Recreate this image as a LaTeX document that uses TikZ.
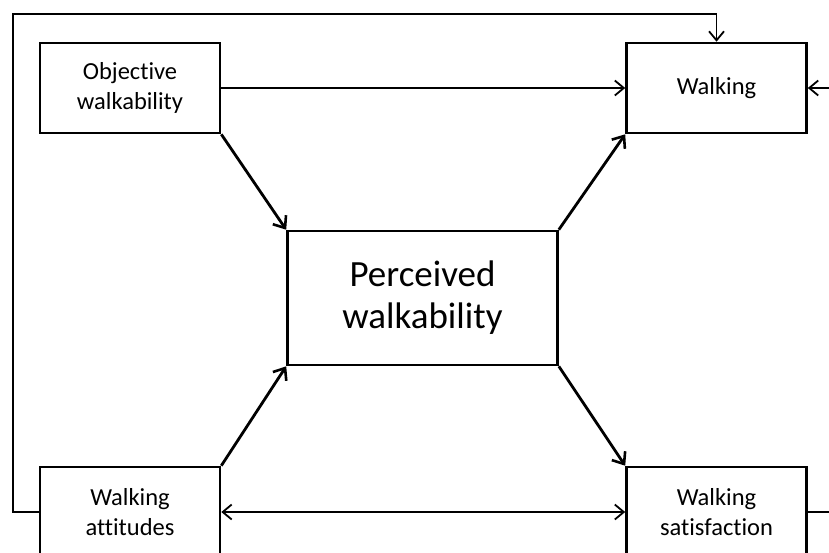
\documentclass[tikz,border=0pt]{standalone}
\usepackage{fontspec}
\setmainfont{Carlito}[Ligatures=NoCommon]
\usetikzlibrary{arrows.meta}
\tikzset{
  box/.style={draw, line width=2.6pt, minimum width=180pt, minimum height=90pt, inner sep=0pt, align=center, font=\fontsize{24.5}{30}\selectfont},
  bigbox/.style={box, minimum width=270pt, minimum height=134pt, font=\fontsize{37}{42}\selectfont},
  thinarr/.style={line width=1.8pt, -{Straight Barb[length=9pt,width=15pt,line width=1.8pt]}},
  twoarr/.style={line width=1.8pt, {Straight Barb[length=9pt,width=15pt,line width=1.8pt]}-{Straight Barb[length=9pt,width=15pt,line width=1.8pt]}},
  thickarr/.style={line width=2.8pt, -{Straight Barb[length=10pt,width=16pt,line width=2.6pt]}}
}
\begin{document}
\begin{tikzpicture}[x=1pt,y=-1pt]
\useasboundingbox (0,0) rectangle (829,552);
\node[box] (obj) at (130,88) {Objective\\walkability};
\node[box] (walk) at (716.5,88) {Walking};
\node[bigbox] (perc) at (422.5,298) {Perceived\\walkability};
\node[box] (att) at (130,512) {Walking\\attitudes};
\node[box] (sat) at (716.5,512) {Walking\\satisfaction};

\draw[thinarr] (obj.east) -- (walk.west);
\draw[twoarr] (att.east) -- (sat.west);

\draw[thickarr] (obj.south east) -- (perc.north west);
\draw[thickarr] (att.north east) -- (perc.south west);
\draw[thickarr] (perc.north east) -- (walk.south west);
\draw[thickarr] (perc.south east) -- (sat.north west);

% feedback loops
\coordinate (lfttop) at (13,14);
\coordinate (rgtend) at (840,88);
\draw[thinarr] (att.west) -| (lfttop) -| (walk.north);
\draw[thinarr] (sat.east) -| (rgtend) -- (walk.east);
\end{tikzpicture}
\end{document}
